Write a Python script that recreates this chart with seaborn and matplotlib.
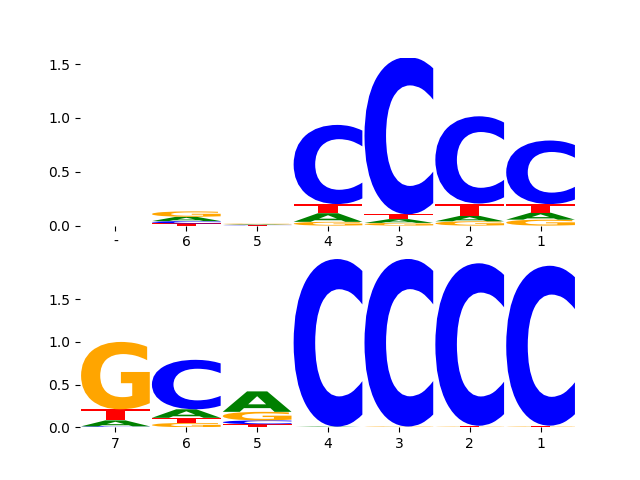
import numpy as np
import matplotlib
matplotlib.use('Agg')
import matplotlib.pyplot as plt
import seaborn as sns
from matplotlib.textpath import TextPath
from matplotlib.patches import PathPatch
from matplotlib.font_manager import FontProperties
from matplotlib.transforms import Affine2D

# ================================================
# Data (letter heights per position, bits)
# ================================================
bases = ['A', 'C', 'G', 'T']
base_colors = {'A': 'green', 'C': '#0000ff', 'G': '#ffa500', 'T': '#ff0000'}

top_labels = ['-', '6', '5', '4', '3', '2', '1']
top_A = [0.0, 0.040, 0.005, 0.080, 0.035, 0.050, 0.065]
top_C = [0.0, 0.022, 0.004, 0.735, 1.460, 0.810, 0.590]
top_G = [0.0, 0.050, 0.006, 0.035, 0.025, 0.040, 0.055]
top_T = [0.0, 0.020, 0.003, 0.085, 0.045, 0.115, 0.080]

bot_labels = ['7', '6', '5', '4', '3', '2', '1']
bot_A = [0.070, 0.100, 0.240, 0.005, 0.002, 0.003, 0.003]
bot_C = [0.010, 0.580, 0.045, 1.965, 1.965, 1.905, 1.875]
bot_G = [0.790, 0.050, 0.100, 0.001, 0.005, 0.004, 0.005]
bot_T = [0.130, 0.060, 0.035, 0.001, 0.001, 0.010, 0.010]

font = FontProperties(family='DejaVu Sans', weight='bold')
glyphs = {b: TextPath((0, 0), b, size=1, prop=font) for b in bases}


def draw_letter(ax, base, x, y, w, h):
    if h <= 0:
        return
    path = glyphs[base]
    ext = path.get_extents()
    tr = (Affine2D()
          .translate(-ext.x0, -ext.y0)
          .scale(w / ext.width, h / ext.height)
          .translate(x - w / 2, y))
    ax.add_patch(PathPatch(tr.transform_path(path), facecolor=base_colors[base],
                           edgecolor='none', lw=0))


def draw_logo(ax, labels, heights, width=0.97):
    n = len(labels)
    for i in range(n):
        col = sorted([(heights[b][i], b) for b in bases])
        y = 0
        for h, b in col:
            draw_letter(ax, b, i, y, width, h)
            y += h
    ax.set_xlim(-0.5, n - 0.5)
    ax.set_xticks(range(n))
    ax.set_xticklabels(labels)
    ax.set_yticks([0, 0.5, 1.0, 1.5])
    sns.despine(ax=ax, left=True, bottom=True)


fig, axes = plt.subplots(2, 1, figsize=(6.4, 4.8))

draw_logo(axes[0], top_labels, {'A': top_A, 'C': top_C, 'G': top_G, 'T': top_T})
axes[0].set_ylim(0, 1.56)

draw_logo(axes[1], bot_labels, {'A': bot_A, 'C': bot_C, 'G': bot_G, 'T': bot_T})
axes[1].set_ylim(0, 1.97)

plt.savefig('out.png', dpi=100)
